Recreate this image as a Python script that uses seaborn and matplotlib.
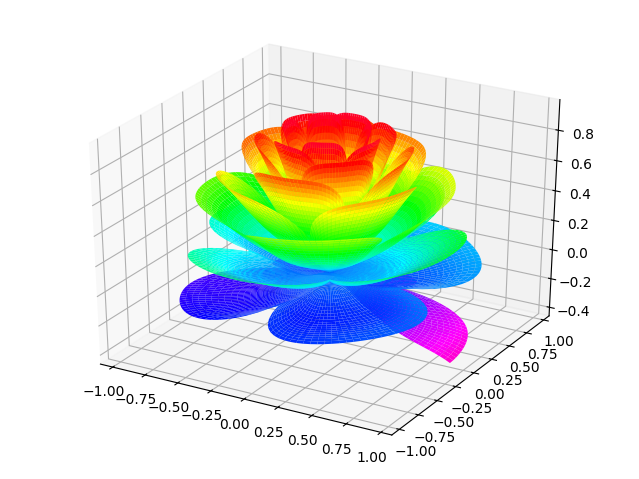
import numpy as np
import matplotlib
matplotlib.use("Agg")
import matplotlib.pyplot as plt
import seaborn as sns

# Parameters of the surface. NOTE: the vertices below are computed from a parametric rose
# equation, because a ~1150x25 surface cannot be read off the picture by eye.
radial_samples = np.arange(25) / 24.0
angle_samples = np.arange(0, 575.5, 0.5) / 575 * 17 * np.pi - 2 * np.pi
colormap_name = "gist_rainbow_r"
color_vmin = -0.44
color_vmax = 0.92

x, t = np.meshgrid(radial_samples, angle_samples)
p = (np.pi / 2) * np.exp(-t / (8 * np.pi))
u = 1 - (1 - np.mod(3.6 * t, 2 * np.pi) / np.pi) ** 4 / 2
y = (x ** 2 - x) ** 2 * np.sin(p)
r = u * (x * np.sin(p) + y * np.cos(p))
X = r * np.cos(t)
Y = r * np.sin(t)
Z = u * (x * np.cos(p) - y * np.sin(p))

fig = plt.figure(figsize=(6.39, 4.79), dpi=100)
ax = fig.add_axes([0, 0, 1, 1], projection="3d")
ax.apply_aspect = lambda position=None: None  # old-style Axes3D: stretch to the whole figure
ax.set_box_aspect((1, 1, 1), zoom=0.885)
ax.plot_surface(X, Y, Z, rstride=1, cstride=1,
                cmap=sns.color_palette(colormap_name, as_cmap=True),
                vmin=color_vmin, vmax=color_vmax,
                linewidth=0, antialiased=True)
fig.savefig("out.png", dpi=100)
